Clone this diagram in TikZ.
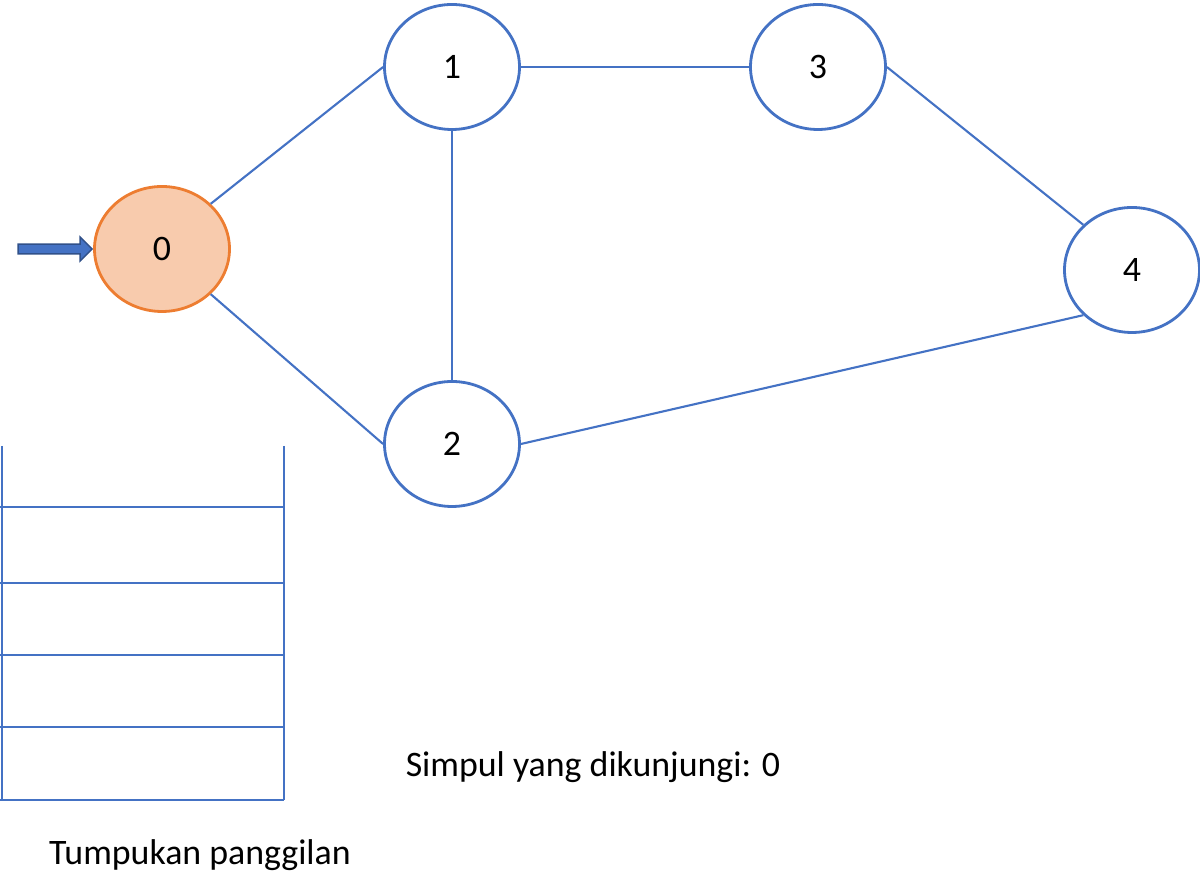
\documentclass[tikz,border=0pt]{standalone}
\usepackage{fontspec}
\setmainfont{Carlito}
\usetikzlibrary{shapes.geometric,shapes.arrows}
\definecolor{edgeblue}{HTML}{4472C4}
\definecolor{visitfill}{HTML}{F8CBAD}
\definecolor{visitline}{HTML}{ED7D31}
\tikzset{
  vertex/.style={ellipse, draw=edgeblue, thick, fill=white, minimum width=1.35cm, minimum height=1.25cm, font=\fontsize{10.2}{12}\selectfont},
  visited/.style={vertex, draw=visitline, fill=visitfill},
  edge/.style={edgeblue, semithick},
  stack/.style={edgeblue, thick}
}
\begin{document}
\begin{tikzpicture}
  \useasboundingbox (0,0) rectangle (12,-8.96);

  % vertices
  \node[visited] (v0) at (1.62,-2.49) {0};
  \node[vertex] (v1) at (4.52,-0.67) {1};
  \node[vertex] (v3) at (8.18,-0.67) {3};
  \node[vertex] (v4) at (11.32,-2.70) {4};
  \node[vertex] (v2) at (4.52,-4.44) {2};

  % edges
  \draw[edge] (v0.north east) -- (v1.west);
  \draw[edge] (v0.south east) -- (v2.west);
  \draw[edge] (v1.east) -- (v3.west);
  \draw[edge] (v1.south) -- (v2.north);
  \draw[edge] (v3.east) -- (v4.north west);
  \draw[edge] (v2.east) -- (v4.south west);

  % start marker
  \node[single arrow, draw=edgeblue!70!black, fill=edgeblue, minimum height=0.74cm,
        minimum width=0.24cm, single arrow head extend=0.04cm, inner sep=0.02cm,
        anchor=tip] (start) at (v0.west) {};

  % call stack
  \draw[stack] (0.02,-4.46) -- (0.02,-8.00);
  \draw[stack] (2.84,-4.46) -- (2.84,-8.00);
  \foreach \y in {5.07,5.83,6.55,7.27,8.00}
    \draw[stack] (0,-\y) -- (2.84,-\y);

  % labels
  \node[font=\fontsize{10.2}{12}\selectfont] (stacklbl) at (2.00,-8.55) {Tumpukan panggilan};
  \node[font=\fontsize{10.2}{12}\selectfont] (visitlbl) at (5.93,-7.67) {Simpul yang dikunjungi: 0};
\end{tikzpicture}
\end{document}
